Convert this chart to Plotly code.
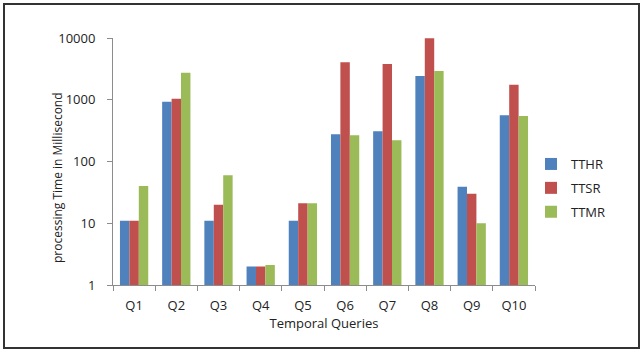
import plotly.graph_objects as go

# Query processing times (ms) for the three approaches
queries = ["Q1", "Q2", "Q3", "Q4", "Q5", "Q6", "Q7", "Q8", "Q9", "Q10"]
tthr = [11, 930, 11, 2, 11, 275, 308, 2425, 39, 560]
ttsr = [11, 1040, 20, 2, 21, 4040, 3790, 9890, 30, 1750]
ttmr = [40, 2740, 60, 2.1, 21, 265, 220, 2920, 10, 545]

series = [("TTHR", tthr, "#4F81BD"), ("TTSR", ttsr, "#C0504D"), ("TTMR", ttmr, "#9BBB59")]

W, H = 644, 352
L, R, T, B = 113, 109, 38, 67
pw, ph = W - L - R, H - T - B

def px_x(x):
    return (x - L) / pw

def px_y(y):
    return (H - B - y) / ph

FONT = "Open Sans, Lato, Liberation Sans, sans-serif"
TXT = "#222"

fig = go.Figure()
for name, vals, col in series:
    fig.add_trace(go.Bar(
        x=queries, y=vals, name=name, legendgroup=name,
        marker=dict(color=col, line=dict(width=0)),
    ))

fig.update_layout(
    width=W, height=H,
    margin=dict(l=L, r=R, t=T, b=B),
    paper_bgcolor="white", plot_bgcolor="white",
    barmode="group", bargap=0.33, bargroupgap=0,
    font=dict(family=FONT, size=13, color=TXT),
    showlegend=True,
    legend=dict(
        x=px_x(531), y=px_y(149), xanchor="left", yanchor="top",
        font=dict(size=13, color=TXT), tracegroupgap=4,
        itemwidth=30, bgcolor="rgba(0,0,0,0)",
    ),
    xaxis=dict(
        type="category", showline=True, linecolor="#8c8c8c", linewidth=1,
        ticks="outside", tickson="boundaries", ticklen=5, tickcolor="#8c8c8c",
        showgrid=False, tickfont=dict(size=13, color=TXT), ticklabelstandoff=8,
        title=dict(text="Temporal Queries", font=dict(size=13, color=TXT), standoff=3),
    ),
    yaxis=dict(
        type="log", range=[0, 4], showline=True, linecolor="#8c8c8c", linewidth=1,
        ticks="outside", ticklen=5, tickcolor="#8c8c8c", showgrid=False,
        tickvals=[1, 10, 100, 1000, 10000], ticktext=["1", "10", "100", "1000", "10000"],
        tickfont=dict(size=13, color=TXT), zeroline=False, ticklabelstandoff=9,
    ),
    shapes=[dict(
        type="rect", xref="paper", yref="paper",
        x0=px_x(4), x1=px_x(639), y0=px_y(348), y1=px_y(4),
        line=dict(color="#333", width=2), fillcolor="rgba(0,0,0,0)", layer="below",
    )],
    annotations=[dict(
        text="processing Time in Millisecond", textangle=-90,
        xref="paper", yref="paper", x=px_x(57), y=px_y(177),
        xanchor="center", yanchor="middle", showarrow=False,
        font=dict(size=12, color=TXT),
    )],
)

fig.write_html("out.html")
